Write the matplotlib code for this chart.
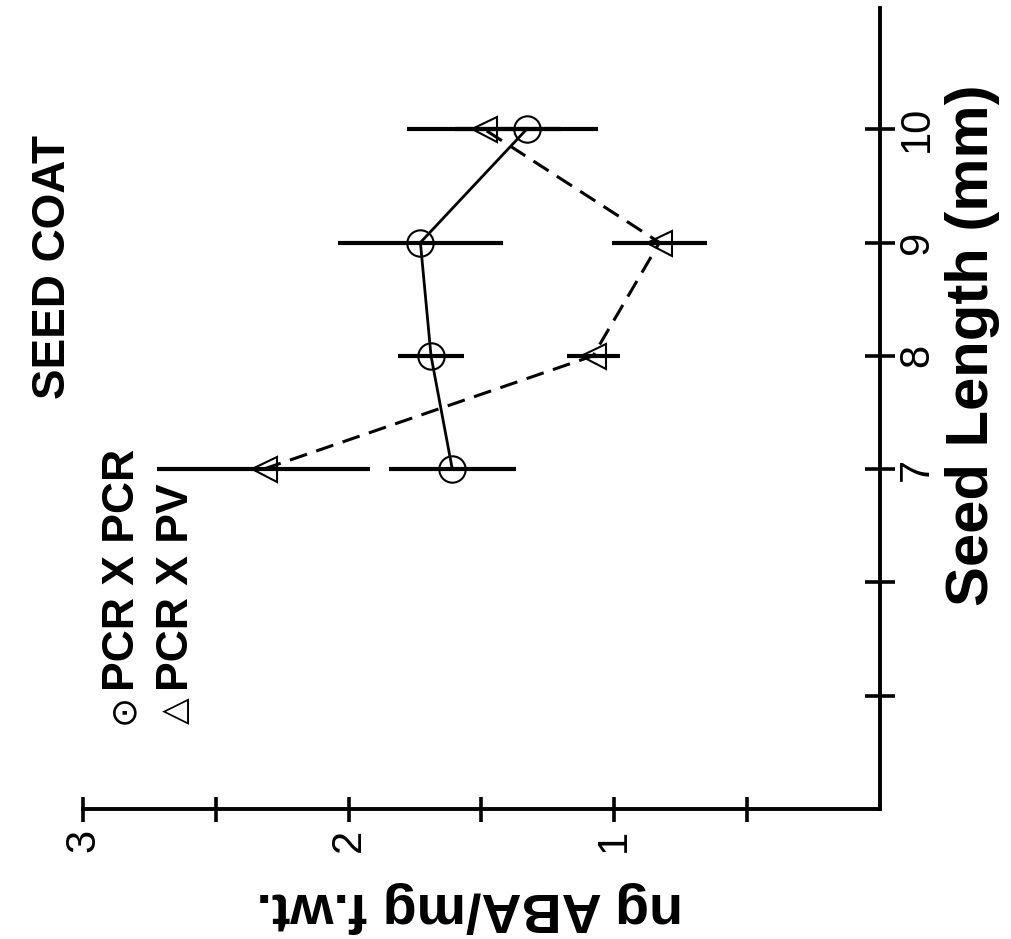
import matplotlib
matplotlib.use('Agg')
import matplotlib.pyplot as plt
from matplotlib import font_manager

# seed coat ABA content vs seed length (figure is printed turned 90 deg ccw)
seed_len = [7, 8, 9, 10]
aba_pcr = [1.61, 1.69, 1.73, 1.33]
err_pcr = [0.24, 0.125, 0.31, 0.27]
aba_pv = [2.32, 1.08, 0.83, 1.49]
err_pv = [0.40, 0.10, 0.18, 0.29]

len_ticks = [5, 6, 7, 8, 9, 10]
len_labels = ['', '', '7', '8', '9', '10']
aba_ticks = [0.5, 1.0, 1.5, 2.0, 2.5, 3.0]
aba_labels = ['', '1', '', '2', '', '3']

names = {f.name for f in font_manager.fontManager.ttflist}
base = 'Liberation Sans' if 'Liberation Sans' in names else 'DejaVu Sans'
fam = [base, 'DejaVu Sans']

W, H = 1011, 939
fig = plt.figure(figsize=(W / 100, H / 100), dpi=100)
ax = fig.add_axes([83 / W, 1 - 809 / H, (880 - 83) / W, (809 - 8) / H])
ax.set_xlim(3.0, 0.0)
ax.set_ylim(4.0, 11.07)

ax.errorbar(aba_pcr, seed_len, xerr=err_pcr, fmt='none', ecolor='black',
            elinewidth=3, capsize=0)
ax.errorbar(aba_pv, seed_len, xerr=err_pv, fmt='none', ecolor='black',
            elinewidth=3, capsize=0)
ax.plot(aba_pcr, seed_len, '-', color='black', lw=2)
ax.plot(aba_pv, seed_len, color='black', lw=2.2, linestyle=(0, (5.9, 3.2)))
ax.plot(aba_pcr, seed_len, 'o', ms=19, mfc='none', mec='black', mew=1.5)
ax.plot(aba_pv, seed_len, '<', ms=18, mfc='none', mec='black', mew=1.5)

for side in ['left', 'top']:
    ax.spines[side].set_visible(False)
for side in ['right', 'bottom']:
    ax.spines[side].set_linewidth(2.8)

ax.yaxis.tick_right()
ax.set_yticks(len_ticks)
ax.set_yticklabels(len_labels, rotation=90, va='center', family=fam, fontsize=30)
ax.tick_params(axis='y', direction='inout', length=21, width=2.6, pad=2)
ax.set_xticks(aba_ticks)
ax.set_xticklabels(aba_labels, rotation=90, ha='center', family=fam, fontsize=30)
ax.tick_params(axis='x', direction='inout', length=18, width=2.6, pad=5)

fig.text(972 / W, 1 - 345 / H, 'Seed Length (mm)', rotation=90, ha='center',
         va='center', fontsize=43, fontweight='bold', family=fam)
fig.text(470 / W, 1 - 907 / H, 'ng ABA/mg f.wt.', rotation=180, ha='center',
         va='center', fontsize=40, fontweight='bold', family=fam)
fig.text(53 / W, 1 - 267 / H, 'SEED COAT', rotation=90, ha='center',
         va='center', fontsize=33, fontweight='bold', family=fam)

# legend written as text, symbol and label separately
fig.text(123 / W, 1 - 724 / H, '\u2299', rotation=90, ha='center',
         va='bottom', fontsize=26, family='DejaVu Sans')
fig.text(123 / W, 1 - 691 / H, 'PCR X PCR', rotation=90, ha='center',
         va='bottom', fontsize=32, fontweight='bold', family=fam)
fig.text(176 / W, 1 - 724 / H, '\u25b3', rotation=90, ha='center',
         va='bottom', fontsize=25, family='DejaVu Sans')
fig.text(176 / W, 1 - 691 / H, 'PCR X PV', rotation=90, ha='center',
         va='bottom', fontsize=32, fontweight='bold', family=fam)

fig.savefig('out.png', dpi=100)
